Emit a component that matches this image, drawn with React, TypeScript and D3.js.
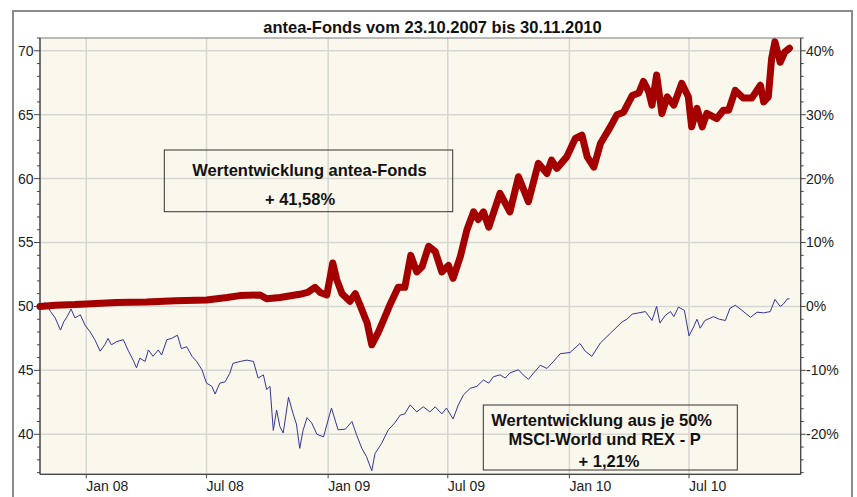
import React from "react";
import * as d3 from "d3";

const title = "antea-Fonds vom 23.10.2007 bis 30.11.2010";

const anteaDates = [
  "2007-10-23","2007-11-15","2007-12-15","2008-01-01","2008-02-15","2008-04-01","2008-05-15","2008-07-01",
  "2008-08-01","2008-08-20","2008-09-20","2008-09-30","2008-10-20","2008-11-19","2008-12-01","2008-12-12",
  "2008-12-20","2008-12-30","2009-01-08","2009-01-14","2009-01-22","2009-02-03","2009-02-11","2009-02-19",
  "2009-03-01","2009-03-08","2009-03-18","2009-03-28","2009-04-05","2009-04-17","2009-04-27","2009-05-06",
  "2009-05-15","2009-05-23","2009-06-02","2009-06-12","2009-06-22","2009-07-02","2009-07-09","2009-07-20",
  "2009-07-30","2009-08-09","2009-08-16","2009-08-24","2009-09-01","2009-09-18","2009-10-03","2009-10-16",
  "2009-10-31","2009-11-15","2009-11-28","2009-12-05","2009-12-13","2009-12-28","2010-01-10","2010-01-20",
  "2010-01-28","2010-02-07","2010-02-17","2010-03-04","2010-03-14","2010-03-24","2010-04-06","2010-04-16",
  "2010-04-23","2010-05-01","2010-05-06","2010-05-13","2010-05-21","2010-05-29","2010-06-08","2010-06-20",
  "2010-06-30","2010-07-05","2010-07-13","2010-07-21","2010-07-28","2010-08-12","2010-08-22","2010-08-30",
  "2010-09-09","2010-09-21","2010-10-04","2010-10-17","2010-10-22","2010-10-29","2010-11-03","2010-11-08",
  "2010-11-16","2010-11-23","2010-11-30"
];
const anteaValues = [
  50.0,50.1,50.15,50.2,50.3,50.35,50.45,50.5,
  50.7,50.85,50.9,50.6,50.7,50.95,51.1,51.5,
  51.1,50.9,53.4,52.1,51.0,50.4,51.0,50.0,
  48.7,47.0,48.0,49.2,50.2,51.5,51.5,54.0,
  52.7,53.1,54.7,54.3,52.7,53.2,52.2,53.9,
  56.0,57.4,56.8,57.4,56.2,58.85,57.4,60.15,
  58.2,61.2,60.4,61.45,60.8,61.7,63.15,63.4,
  61.7,60.9,62.75,64.05,65.0,65.2,66.5,66.7,
  67.6,66.8,65.75,68.1,65.1,66.4,65.75,67.45,
  66.4,64.05,65.5,64.05,65.1,64.7,65.35,65.35,
  66.9,66.3,66.3,67.3,66.0,66.4,69.4,70.7,
  69.1,69.9,70.2
];

const benchDates = [
  "2007-10-23","2007-10-31","2007-11-08","2007-11-15","2007-11-23","2007-11-28","2007-12-03","2007-12-09",
  "2007-12-15","2007-12-23","2007-12-30","2008-01-07","2008-01-14","2008-01-22","2008-01-29","2008-02-03",
  "2008-02-08","2008-02-16","2008-02-26","2008-03-05","2008-03-12","2008-03-17","2008-03-22","2008-03-30",
  "2008-04-04","2008-04-11","2008-04-19","2008-04-24","2008-05-02","2008-05-09","2008-05-18","2008-05-24",
  "2008-06-01","2008-06-09","2008-06-16","2008-06-24","2008-07-01","2008-07-09","2008-07-14","2008-07-21",
  "2008-07-29","2008-08-05","2008-08-10","2008-08-21","2008-08-31","2008-09-10","2008-09-17","2008-09-25",
  "2008-09-30","2008-10-05","2008-10-10","2008-10-15","2008-10-20","2008-10-25","2008-11-02","2008-11-09",
  "2008-11-14","2008-11-19","2008-11-24","2008-11-30","2008-12-07","2008-12-15","2008-12-25","2009-01-03",
  "2009-01-06","2009-01-16","2009-01-27","2009-02-06","2009-02-13","2009-02-21","2009-02-28","2009-03-08",
  "2009-03-13","2009-03-23","2009-04-02","2009-04-12","2009-04-20","2009-04-27","2009-05-05","2009-05-15",
  "2009-05-25","2009-06-04","2009-06-12","2009-06-22","2009-06-29","2009-07-09","2009-07-17","2009-07-25",
  "2009-08-04","2009-08-14","2009-08-24","2009-09-01","2009-09-08","2009-09-18","2009-09-26","2009-10-03",
  "2009-10-16","2009-10-23","2009-10-31","2009-11-08","2009-11-18","2009-11-28","2009-12-08","2009-12-18",
  "2010-01-02","2010-01-17","2010-01-25","2010-02-04","2010-02-17","2010-03-04","2010-03-22","2010-03-29",
  "2010-04-06","2010-04-16","2010-04-26","2010-05-06","2010-05-13","2010-05-18","2010-05-26","2010-06-03",
  "2010-06-08","2010-06-15","2010-06-24","2010-07-01","2010-07-08","2010-07-13","2010-07-18","2010-07-25",
  "2010-08-07","2010-08-16","2010-08-25","2010-09-01","2010-09-09","2010-09-19","2010-10-02","2010-10-12",
  "2010-10-22","2010-11-01","2010-11-08","2010-11-16","2010-11-21","2010-11-27","2010-11-30"
];
const benchValues = [
  50.0,50.3,49.6,49.1,48.15,48.8,49.2,49.8,
  49.1,49.35,48.55,48.0,47.4,46.5,47.0,47.5,
  47.0,47.25,47.4,46.5,45.8,45.2,45.95,45.7,
  46.6,46.1,46.6,46.2,47.4,47.5,47.75,46.7,
  46.85,46.1,45.7,45.05,44.0,43.75,43.15,44.0,
  44.1,44.75,45.55,45.7,45.8,45.7,44.4,44.65,
  43.5,43.75,40.3,41.9,40.6,40.1,42.9,41.6,
  40.8,38.9,40.3,41.3,40.9,40.0,39.8,41.5,
  42.05,40.35,40.4,41.0,39.95,38.9,38.25,37.15,
  38.5,39.3,40.35,40.9,41.5,41.6,42.3,41.75,
  42.15,41.75,42.15,41.6,42.05,41.2,42.3,43.1,
  43.6,43.75,44.25,44.0,44.5,44.65,44.4,44.8,
  45.05,44.65,44.3,44.8,45.4,45.15,45.7,46.3,
  46.4,47.1,46.5,46.1,47.15,47.9,48.8,49.0,
  49.4,49.5,49.6,48.9,50.0,48.7,49.3,49.6,
  49.2,49.95,49.7,47.7,48.4,49.0,48.3,48.9,
  49.2,49.0,48.9,49.85,50.1,49.7,49.15,49.55,
  49.5,49.6,50.55,50.0,50.2,50.6,50.6
];

const leftTicks = [40, 45, 50, 55, 60, 65, 70];
const rightTicks = [-20, -10, 0, 10, 20, 30, 40];
const box1Lines = ["Wertentwicklung antea-Fonds", "+ 41,58%"];
const box2Lines = ["Wertentwicklung aus je 50%", "MSCI-World und REX - P", "+ 1,21%"];

const parse = d3.utcParse("%Y-%m-%d");
const W = 857, H = 497;
const L = 40, R = 800.7, T = 38, B = 474.3;
const FONT = "'Liberation Sans', Arial, Helvetica, sans-serif";

export default function App() {
  const x = d3.scaleUtc().domain([parse("2007-10-23")!, parse("2010-12-17")!]).range([L, R]);
  const y = d3.scaleLinear().domain([36.87, 71]).range([B, T]);
  const pct = (p: number) => 50 * (1 + p / 100);

  const anteaData = anteaDates.map((d, i) => ({ d: parse(d)!, v: anteaValues[i] }));
  const benchData = benchDates.map((d, i) => ({ d: parse(d)!, v: benchValues[i] }));
  const line = d3.line<{ d: Date; v: number }>().x(p => x(p.d)).y(p => y(p.v));

  const xTicks = x.ticks(d3.utcMonth.every(6)!);
  const fmt = d3.utcFormat("%b %y");
  const minorLeft = d3.range(37, 72, 1).filter(v => v % 5 !== 0);
  const minorRight = d3.range(-26, 43, 2).filter(p => p % 10 !== 0 && pct(p) >= 36.87 && pct(p) <= 71);

  return (
    <svg width={W} height={H} style={{ position: "absolute", left: 0, top: 0 }} fontFamily={FONT}>
      <rect x={0} y={0} width={W} height={H} fill="#ffffff" />
      <rect x={13} y={11} width={839} height={500} fill="#ffffff" stroke="#8a8a8a" strokeWidth={2} />
      <text x={432.5} y={33} textAnchor="middle" fontSize={16.5} fontWeight="bold" fill="#111">{title}</text>
      <rect x={L} y={T} width={R - L} height={B - T} fill="#faf7ec" />
      {leftTicks.map(v => (
        <line key={"h" + v} x1={L} x2={R} y1={y(v)} y2={y(v)} stroke="#d6d6d2" strokeWidth={1.5} />
      ))}
      {xTicks.map(t => (
        <line key={"v" + t.toISOString()} x1={x(t)} x2={x(t)} y1={T} y2={B} stroke="#d6d6d2" strokeWidth={1.5} />
      ))}
      <rect x={L} y={T} width={R - L} height={B - T} fill="none" stroke="#7a7a7a" strokeWidth={1} />
      <line x1={L} x2={L} y1={T} y2={B} stroke="#444" strokeWidth={1.2} />
      <line x1={R} x2={R} y1={T} y2={B} stroke="#444" strokeWidth={1.2} />
      <line x1={L} x2={R} y1={B} y2={B} stroke="#444" strokeWidth={1.2} />

      {leftTicks.map(v => (
        <g key={"lt" + v}>
          <line x1={L - 6} x2={L} y1={y(v)} y2={y(v)} stroke="#444" />
          <text x={33.5} y={y(v)} dy="0.35em" textAnchor="end" fontSize={14} fill="#222">{v}</text>
        </g>
      ))}
      {minorLeft.map(v => (
        <line key={"lm" + v} x1={L - 3} x2={L} y1={y(v)} y2={y(v)} stroke="#444" />
      ))}
      {rightTicks.map(p => (
        <g key={"rt" + p}>
          <line x1={R} x2={R + 5} y1={y(pct(p))} y2={y(pct(p))} stroke="#444" />
          <text x={806} y={y(pct(p))} dy="0.35em" textAnchor="start" fontSize={14} fill="#222">{p + "%"}</text>
        </g>
      ))}
      {minorRight.map(p => (
        <line key={"rm" + p} x1={R} x2={R + 3} y1={y(pct(p))} y2={y(pct(p))} stroke="#444" />
      ))}
      {xTicks.map(t => (
        <g key={"xt" + t.toISOString()}>
          <line x1={x(t)} x2={x(t)} y1={B} y2={B + 4} stroke="#444" />
          <text x={x(t)} y={491} textAnchor="start" fontSize={14} fill="#222">{fmt(t)}</text>
        </g>
      ))}

      <path d={line(benchData)!} fill="none" stroke="#35359a" strokeWidth={1} strokeLinejoin="round" />
      <path d={line(anteaData)!} fill="none" stroke="#a40000" strokeWidth={7} strokeLinejoin="round" strokeLinecap="round" />

      <rect x={164.3} y={150} width={288.4} height={61.7} fill="none" stroke="#333" strokeWidth={1} />
      <text x={309.5} y={176} textAnchor="middle" fontSize={16.5} fontWeight="bold" fill="#111">{box1Lines[0]}</text>
      <text x={300} y={205} textAnchor="middle" fontSize={16.5} fontWeight="bold" fill="#111">{box1Lines[1]}</text>

      <rect x={483.3} y={405} width={254} height={65} fill="none" stroke="#333" strokeWidth={1} />
      <text x={601.7} y={425.7} textAnchor="middle" fontSize={16.5} fontWeight="bold" fill="#111">{box2Lines[0]}</text>
      <text x={604.7} y={445} textAnchor="middle" fontSize={16.5} fontWeight="bold" fill="#111">{box2Lines[1]}</text>
      <text x={609} y={467.3} textAnchor="middle" fontSize={16.5} fontWeight="bold" fill="#111">{box2Lines[2]}</text>
    </svg>
  );
}
